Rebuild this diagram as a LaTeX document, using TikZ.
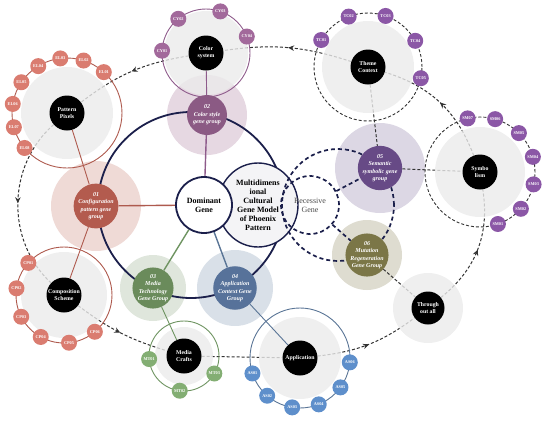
\documentclass[tikz,border=0pt]{standalone}
\usepackage{fontspec}
\setmainfont{Liberation Serif}
\usetikzlibrary{positioning, arrows.meta, calc, shapes.geometric, decorations.markings}
\definecolor{DeepNavy}{HTML}{1B1F4B}
\definecolor{LoopGrey}{HTML}{333333}
\definecolor{HubHalo}{HTML}{EBEBEB}
\definecolor{CoreFill}{HTML}{F4F4F6}
\definecolor{BrickLine}{HTML}{AE5A4E}
\definecolor{BrickFill}{HTML}{B35B4E}
\definecolor{BrickHalo}{HTML}{EFDAD6}
\definecolor{BrickLeaf}{HTML}{DA7C70}
\definecolor{MauveLine}{HTML}{8E5B8B}
\definecolor{MauveFill}{HTML}{8B5A84}
\definecolor{MauveHalo}{HTML}{E6D8E2}
\definecolor{MauveLeaf}{HTML}{A2699B}
\definecolor{SageLine}{HTML}{6E9461}
\definecolor{SageFill}{HTML}{6A8B5B}
\definecolor{SageHalo}{HTML}{DFE6DC}
\definecolor{SageLeaf}{HTML}{83AE73}
\definecolor{SteelLine}{HTML}{5A7596}
\definecolor{SteelFill}{HTML}{57729A}
\definecolor{SteelHalo}{HTML}{D9E0E8}
\definecolor{SteelLeaf}{HTML}{5E8FCB}
\definecolor{VioletFill}{HTML}{674A86}
\definecolor{VioletHalo}{HTML}{DCD7E4}
\definecolor{VioletLeaf}{HTML}{8B57A6}
\definecolor{OliveFill}{HTML}{7B7647}
\definecolor{OliveHalo}{HTML}{DEDCD0}
\pgfdeclarelayer{genehalo}
\pgfdeclarelayer{loop}
\pgfdeclarelayer{hubhalo}
\pgfdeclarelayer{edges}
\pgfsetlayers{genehalo,loop,hubhalo,edges,main}

\begin{document}
\begin{tikzpicture}[x=1pt, y=1pt,
    hub/.style={circle, fill=black, text=white, minimum size=35pt, inner sep=0pt, align=center, font=\fontsize{5.8}{6.8}\selectfont\bfseries},
    gene/.style={circle, fill=#1, text=white, minimum size=40pt, inner sep=0pt, align=center, font=\fontsize{6}{7.4}\selectfont\bfseries\itshape},
    leaf/.style={circle, fill=#1, text=white, minimum size=16pt, inner sep=0pt, font=\fontsize{4.3}{4.3}\selectfont\bfseries},
    loopline/.style={LoopGrey, line width=1pt, dash pattern=on 3pt off 2pt},
    midarrow/.style={postaction={decorate, decoration={markings, mark=at position 0.5 with {\arrow{Stealth[length=6pt, width=5.5pt]}}}}},
    recline/.style={DeepNavy, line width=1.7pt, dash pattern=on 4pt off 3pt},
    ringline/.style={#1, line width=0.9pt},
    stem/.style={#1, line width=1.4pt}
]
  \useasboundingbox (0,0) rectangle (550,-421);

  % Core model
  \node[ellipse, draw=DeepNavy, line width=1.4pt, fill=CoreFill, minimum width=80pt, minimum height=84pt, inner sep=0pt, align=center, font=\fontsize{8}{9}\selectfont\bfseries] (model) at (258,-205) {Multidimens\\ional\\Cultural\\Gene Model\\of Phoenix\\Pattern};
  \coordinate (domring) at (191,-205);
  \coordinate (recring) at (338,-205);
  \draw[recline] (recring) circle[radius=56];
  \node[circle, draw=DeepNavy, line width=1.8pt, fill=white, minimum size=56pt, inner sep=0pt, align=center, font=\fontsize{8}{9}\selectfont\bfseries] (dom) at (204,-205) {Dominant\\Gene};
  \node[circle, draw, recline, minimum size=58pt, inner sep=0pt, align=center, text=black!70, font=\fontsize{8}{9}\selectfont] (rec) at (310,-205) {Recessive\\Gene};

  % Gene groups
  \node[gene=BrickFill] (g1) at (96,-206) {01\\Configuration\\pattern gene\\group};
  \node[gene=MauveFill] (g2) at (207,-115) {02\\Color style\\gene group};
  \node[gene=SageFill] (g3) at (153,-288) {03\\Media\\Technology\\Gene Group};
  \node[gene=SteelFill, minimum size=37pt] (g4) at (235,-288) {04\\Application\\Context Gene\\Group};
  \node[gene=VioletFill, minimum size=37pt] (g5) at (380,-168) {05\\Semantic\\symbolic gene\\group};
  \node[gene=OliveFill, minimum size=37pt] (g6) at (367,-255) {06\\Mutation\\Regeneration\\Gene Group};

  % Hubs
  \node[hub] (pp) at (67,-113) {Pattern\\Pixels};
  \node[hub] (cs) at (206,-53) {Color\\system};
  \node[hub] (tc) at (368,-67) {Theme\\Context};
  \node[hub] (sy) at (480,-172) {Symbo\\lism};
  \node[hub] (cp) at (64,-295) {Composition\\Scheme};
  \node[hub] (mc) at (184,-356) {Media\\Crafts};
  \node[hub] (ap) at (300,-358) {Application};
  \node[hub, minimum size=33pt] (ta) at (428,-308) {Through\\out all};

  % Leaves
  \foreach \a [count=\i] in {48,72.5,97,121.5,146,170.5,195,219.5}
    \node[leaf=BrickLeaf] (el\i) at ($(pp)+(\a:55)$) {EL0\i};
  \foreach \a [count=\i] in {177,129,71,22}
    \node[leaf=MauveLeaf] (cy\i) at ($(cs)+(\a:44)$) {CY0\i};
  \foreach \a [count=\i] in {150,111,71,29,-12}
    \node[leaf=VioletLeaf] (tc\i) at ($(tc)+(\a:54)$) {TC0\i};
  \foreach \a [count=\i] in {-71,-42,-13,16,45,74,103}
    \node[leaf=VioletLeaf] (sm\i) at ($(sy)+(\a:55)$) {SM0\i};
  \foreach \a [count=\i] in {138,172,207,241,276,310}
    \node[leaf=BrickLeaf] (cp\i) at ($(cp)+(\a:48)$) {CP0\i};
  \foreach \a [count=\i] in {185,263,330}
    \node[leaf=SageLeaf] (mt\i) at ($(mc)+(\a:35)$) {MT0\i};
  \foreach \a [count=\i] in {198,229,261,292,324,355}
    \node[leaf=SteelLeaf] (as\i) at ($(ap)+(\a:50)$) {AS0\i};

  % Recessive links
  \draw[recline] (rec) -- (g5);
  \draw[recline] (rec) -- (g6);

  \begin{pgfonlayer}{genehalo}
    \fill[BrickHalo] (g1) circle[radius=45];
    \fill[MauveHalo] (g2) circle[radius=40];
    \fill[SageHalo] (g3) circle[radius=33];
    \fill[SteelHalo] (g4) circle[radius=38];
    \fill[VioletHalo] (g5) circle[radius=45];
    \fill[OliveHalo] (g6) circle[radius=35];
  \end{pgfonlayer}

  \begin{pgfonlayer}{hubhalo}
    \foreach \h/\rad in {pp/46, cs/42, tc/46, sy/45, cp/43, mc/29, ap/41, ta/35}
      \fill[HubHalo, fill opacity=0.8] (\h) circle[radius=\rad];
  \end{pgfonlayer}

  % Outer cycle
  \begin{pgfonlayer}{loop}
    \draw[loopline, midarrow] (pp) to[bend right=48] (cp);
    \draw[loopline, midarrow] (cp) to[bend right=10] (mc);
    \draw[loopline] (mc) -- (ap);
    \draw[loopline, midarrow] (ap) to[bend right=15] (ta);
    \draw[loopline, midarrow] (ta) to[bend right=30] (sy);
    \draw[loopline, midarrow] (sy) to[bend right=26] (tc);
    \draw[loopline, midarrow] (tc) to[bend right=13] (cs);
    \draw[loopline, midarrow] (cs) to[bend right=14] (pp);
    \draw[loopline] (tc) -- (g5);
    \draw[loopline] (g5) -- (sy);
    \draw[loopline] (g6) -- (ta);
  \end{pgfonlayer}

  \begin{pgfonlayer}{edges}
    \draw[DeepNavy, line width=1.8pt] (domring) circle[radius=93];
    \draw[ringline=BrickLine] (pp) circle[radius=55];
    \draw[ringline=MauveLine] (cs) circle[radius=44];
    \draw[loopline, line width=0.9pt] (tc) circle[radius=54];
    \draw[loopline, line width=0.9pt] (sy) circle[radius=55];
    \draw[ringline=BrickLine] (cp) circle[radius=48];
    \draw[ringline=SageLine] (mc) circle[radius=35];
    \draw[ringline=SteelLine] (ap) circle[radius=50];
    \draw[stem=BrickLine] (dom) -- (g1);
    \draw[stem=MauveLine] (dom) -- (g2);
    \draw[stem=SageLine] (dom) -- (g3);
    \draw[stem=SteelLine] (dom) -- (g4);
    \draw[ringline=BrickLine] (pp) -- (g1);
    \draw[ringline=BrickLine] (cp) -- (g1);
    \draw[ringline=MauveLine] (cs) -- (g2);
    \draw[ringline=SageLine] (mc) -- (g3);
    \draw[ringline=SteelLine] (ap) -- (g4);
  \end{pgfonlayer}
\end{tikzpicture}
\end{document}
